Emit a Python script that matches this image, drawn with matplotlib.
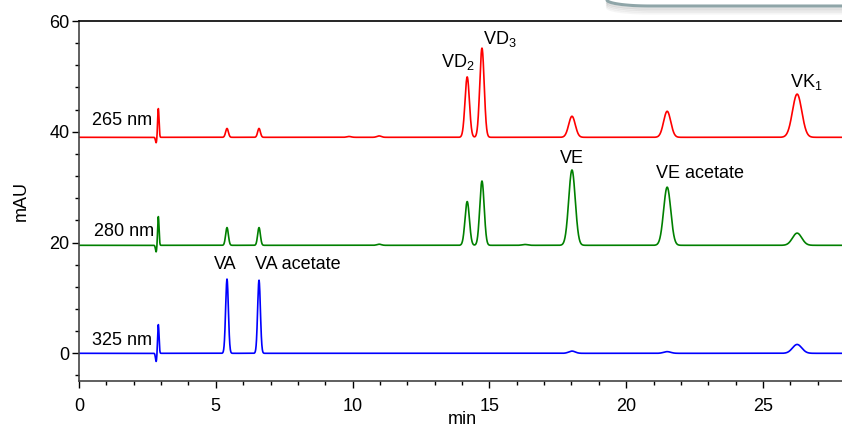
import numpy as np
import matplotlib
matplotlib.use("Agg")
import matplotlib.pyplot as plt
from matplotlib.lines import Line2D

plt.rcParams['font.family'] = ['Liberation Sans', 'DejaVu Sans']
plt.rcParams['mathtext.fontset'] = 'custom'
plt.rcParams['mathtext.rm'] = 'Liberation Sans'

# ---- data: peak tables (retention time, height above baseline, sigma) ----
wavelengths = ["265 nm", "280 nm", "325 nm"]
colors = ["#ff0000", "#008000", "#0000ff"]
baselines = [39.0, 19.5, 0.0]

# injection artefact: (up time, up height, down time, down depth)
spike_265 = [2.90, 5.2, 2.82, -1.0]
spike_280 = [2.90, 5.2, 2.82, -1.2]
spike_325 = [2.90, 5.2, 2.82, -1.5]

rt_265 = [5.41, 6.58, 9.87, 10.97, 14.19, 14.73, 18.02, 21.50, 26.25]
h_265 = [1.6, 1.6, 0.15, 0.25, 10.9, 16.1, 3.8, 4.7, 7.8]
w_265 = [0.05, 0.05, 0.08, 0.08, 0.08, 0.08, 0.12, 0.13, 0.17]

rt_280 = [5.41, 6.58, 10.97, 14.19, 14.73, 16.30, 18.02, 21.50, 26.25]
h_280 = [3.2, 3.2, 0.2, 7.9, 11.6, 0.15, 13.6, 10.5, 2.2]
w_280 = [0.05, 0.05, 0.08, 0.08, 0.08, 0.1, 0.12, 0.13, 0.17]

rt_325 = [5.41, 6.58, 18.02, 21.50, 26.25]
h_325 = [13.4, 13.2, 0.4, 0.3, 1.6]
w_325 = [0.05, 0.05, 0.12, 0.13, 0.17]

xticks = [0, 5, 10, 15, 20, 25]
yticks = [0, 20, 40, 60]

peak_labels = ["VD$_\\mathregular{2}$", "VD$_\\mathregular{3}$", "VK$_\\mathregular{1}$",
               "VE", "VE acetate", "VA", "VA acetate"]
label_x = [13.23, 14.77, 26.0, 18.02, 22.7, 5.34, 6.44]
label_y = [52.6, 56.7, 49.0, 35.2, 32.5, 16.1, 16.1]
label_ha = ["left", "left", "left", "center", "center", "center", "left"]

trace_label_x = [0.48, 0.55, 0.48]
trace_label_y = [42.1, 22.0, 2.35]

# ---- build traces ----
t = np.linspace(0, 28, 6000)

def trace(base, spike, rts, hs, ws):
    y = np.full_like(t, base)
    y += spike[1] * np.exp(-0.5 * ((t - spike[0]) / 0.025) ** 2)
    y += spike[3] * np.exp(-0.5 * ((t - spike[2]) / 0.025) ** 2)
    for r, h, w in zip(rts, hs, ws):
        y += h * np.exp(-0.5 * ((t - r) / w) ** 2)
    return y

traces = [
    trace(baselines[0], spike_265, rt_265, h_265, w_265),
    trace(baselines[1], spike_280, rt_280, h_280, w_280),
    trace(baselines[2], spike_325, rt_325, h_325, w_325),
]

W, H = 842, 426
fig = plt.figure(figsize=(W / 100, H / 100), dpi=100)

# decorative remnant of a rounded frame at the top right (pixel coords -> figure fraction)
th = np.linspace(0, np.pi / 2, 40)
px = np.concatenate([650 - 43 * np.cos(th), [W + 5]])
py = np.concatenate([6 * np.sin(th), [6]])
for k, a in enumerate([0.30, 0.22, 0.15, 0.09]):
    fig.add_artist(Line2D(px / W, 1 - (py + 2.5 + 1.7 * k) / H, color="#999999",
                          alpha=a, lw=1.5, transform=fig.transFigure, zorder=0))
fig.add_artist(Line2D(px / W, 1 - py / H, color="#8fa5a8", lw=2.2,
                      transform=fig.transFigure, zorder=1))

ax = fig.add_axes([79 / W, 45 / H, 766 / W, 360 / H])
ax.patch.set_alpha(0)

for y, c in zip(traces, colors):
    ax.plot(t, y, color=c, lw=1.2)

for name, x, y in zip(wavelengths, trace_label_x, trace_label_y):
    ax.text(x, y, name, fontsize=13, ha="left", va="center")

for name, x, y, ha in zip(peak_labels, label_x, label_y, label_ha):
    ax.text(x, y, name, fontsize=13, ha=ha, va="center")

ax.set_xlim(0, 28)
ax.set_ylim(-5, 60)
ax.set_xticks(xticks)
ax.set_yticks(yticks)
ax.set_xticks(np.arange(0, 28.5, 1), minor=True)
ax.set_yticks(np.arange(-4, 61, 4), minor=True)
ax.tick_params(axis="both", which="major", direction="out", length=5, width=1, labelsize=13)
ax.tick_params(axis="x", which="major", pad=7)
ax.tick_params(axis="y", which="major", pad=2)
ax.tick_params(axis="both", which="minor", direction="out", length=3, width=1)
ax.spines["right"].set_visible(False)
for s in ["left", "bottom", "top"]:
    ax.spines[s].set_linewidth(1.2)
ax.spines["bottom"].set_color("#444444")
ax.spines["left"].set_color("#444444")

ax.set_xlabel("min", fontsize=13, labelpad=-3)
ax.set_ylabel("mAU", fontsize=13, labelpad=14)

fig.savefig("out.png", dpi=100)
